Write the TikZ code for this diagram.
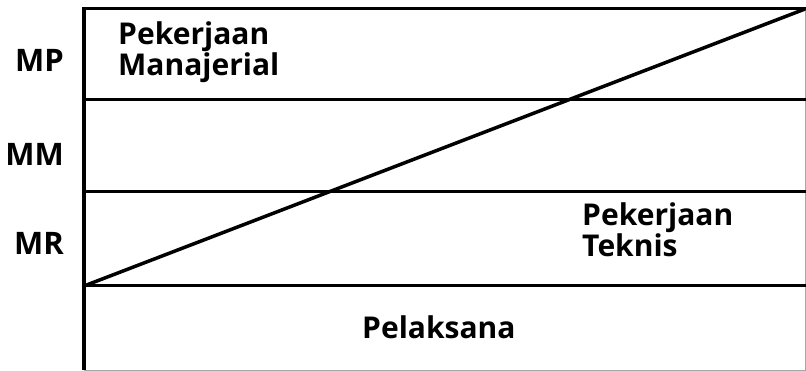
\documentclass[tikz,border=0pt]{standalone}
\usepackage{fontspec}
\setmainfont{Open Sans}
\begin{document}
\begin{tikzpicture}[x=1pt,y=-1pt,
  thick line/.style={line width=3pt,line cap=rect},
  thin line/.style={line width=1pt,draw=black!35},
  inner text/.style={font=\bfseries\fontsize{30}{29}\selectfont,inner sep=0pt,align=left,anchor=base west},
  level label/.style={font=\bfseries\fontsize{31}{33}\selectfont,inner sep=0pt,anchor=base east}]
\useasboundingbox (0,0) rectangle (806,371);
\coordinate (tl) at (84,9);
\coordinate (tr) at (805,9);
\coordinate (bl) at (84,370);
\coordinate (br) at (805,370);
\coordinate (l1) at (84,100);
\coordinate (r1) at (805,100);
\coordinate (l2) at (84,192);
\coordinate (r2) at (805,192);
\coordinate (l3) at (84,286);
\coordinate (r3) at (805,286);
% frame
\draw[thin line] (tr) -- (br) -- (bl);
\draw[line width=4pt] (84,7.5) -- (bl);
\draw[thick line] (tl) -- (tr);
\draw[thick line] (l1) -- (r1);
\draw[thick line] (l2) -- (r2);
\draw[thick line] (l3) -- (r3);
\draw[line width=3.5pt] (l3) -- (tr);
% texts
\node[inner text] (man) at (118,76) {Pekerjaan\\Manajerial};
\node[inner text] (tek) at (582,257) {Pekerjaan\\Teknis};
\node[inner text] (pel) at (362,339) {Pelaksana};
\node[level label] (mp) at (64,72) {MP};
\node[level label] (mm) at (64,166) {MM};
\node[level label] (mr) at (64,255) {MR};
\end{tikzpicture}
\end{document}
